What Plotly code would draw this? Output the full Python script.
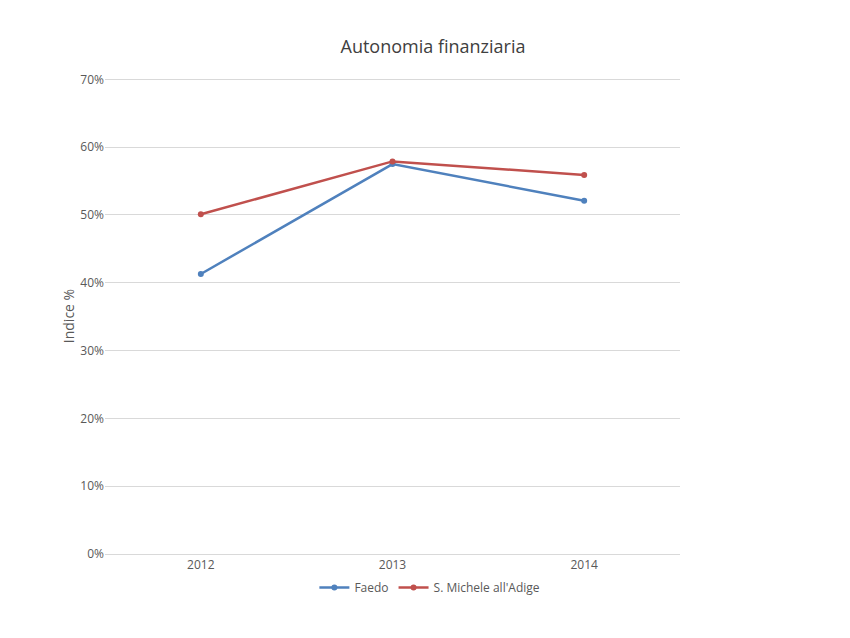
import plotly.graph_objects as go

years = ["2012", "2013", "2014"]
faedo = [0.413, 0.575, 0.521]
smichele = [0.501, 0.579, 0.559]

fig = go.Figure()
fig.add_trace(go.Scatter(x=years, y=faedo, name="Faedo", mode="lines+markers",
                         line=dict(color="#4F81BD", width=2.5), marker=dict(size=6)))
fig.add_trace(go.Scatter(x=years, y=smichele, name="S. Michele all'Adige", mode="lines+markers",
                         line=dict(color="#C0504D", width=2.5), marker=dict(size=6)))
fig.update_layout(
    width=850, height=638, plot_bgcolor="white", paper_bgcolor="white",
    margin=dict(l=97, r=178, t=70, b=92),
    font=dict(family="Open Sans, Liberation Sans, sans-serif", size=12, color="#595959"),
    title=dict(text="Autonomia finanziaria", x=0.5, xanchor="center", y=0.95,
               font=dict(size=18, color="#404040")),
    legend=dict(orientation="h", x=0.565, xanchor="center", y=-0.04, yanchor="top",
                font=dict(size=12)),
    xaxis=dict(type="category", range=[-0.5, 2.5], showgrid=False, showline=True,
               linecolor="#D9D9D9", ticks=""),
    yaxis=dict(range=[0, 0.702], tickvals=[0, 0.1, 0.2, 0.3, 0.4, 0.5, 0.6, 0.7],
               tickformat=".0%", gridcolor="#D9D9D9",
               zeroline=False, title=dict(text="Indice %", standoff=2)),
)
fig.write_html("out.html")
